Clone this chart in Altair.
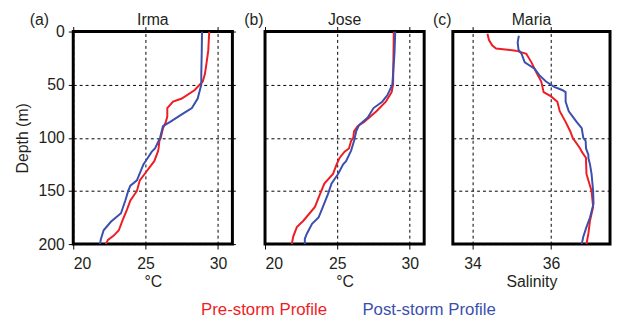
import altair as alt
import pandas as pd

RED = "#ee1d23"
BLUE = "#3a4fae"
FONT = "Liberation Sans"
TXT = "#231f20"
FS = 16

# Panel (a) Irma - temperature
irma_pre_depth = [0, 18, 31, 40, 47, 55, 63, 66, 72, 80, 85, 91, 100, 103, 110, 113, 122, 131, 140, 150, 159, 168, 178, 187, 192, 196, 200]
irma_pre_temp = [29.4, 29.33, 29.2, 29.1, 28.95, 28.4, 27.5, 26.9, 26.5, 26.5, 26.4, 26.2, 26.05, 25.95, 25.9, 25.85, 25.6, 25.1, 24.6, 24.4, 23.95, 23.7, 23.4, 23.15, 22.8, 22.4, 22.25]
irma_post_depth = [0, 20, 40, 50, 63, 72, 78, 85, 89, 100, 110, 113, 120, 125, 140, 145, 150, 159, 171, 179, 187, 196, 200]
irma_post_temp = [28.9, 28.88, 28.85, 28.85, 28.6, 28.2, 27.5, 26.7, 26.2, 26.0, 25.65, 25.43, 25.1, 24.85, 24.4, 23.95, 23.8, 23.6, 23.3, 22.6, 22.1, 21.9, 21.85]

# Panel (b) Jose - temperature
jose_pre_depth = [0, 20, 40, 50, 57, 66, 75, 85, 89, 94, 100, 103, 110, 113, 119, 125, 134, 143, 153, 165, 178, 184, 193, 200]
jose_pre_temp = [28.9, 28.88, 28.86, 28.85, 28.75, 28.35, 27.7, 26.85, 26.4, 26.15, 26.1, 25.95, 25.8, 25.5, 25.15, 24.95, 24.7, 24.1, 23.8, 23.45, 22.65, 22.2, 21.95, 21.85]
jose_post_depth = [0, 20, 40, 50, 60, 66, 72, 81, 88, 94, 103, 112, 122, 125, 134, 143, 153, 165, 175, 181, 190, 195, 200]
jose_post_temp = [29.0, 28.95, 28.85, 28.8, 28.45, 28.1, 27.5, 27.1, 26.5, 26.3, 26.15, 25.95, 25.6, 25.4, 25.05, 24.6, 24.35, 24.0, 23.7, 23.25, 22.9, 22.75, 22.75]

# Panel (c) Maria - salinity
maria_pre_depth = [2, 8, 13, 16, 18, 21, 29, 38, 47, 57, 61, 66, 75, 85, 94, 100, 110, 113, 119, 122, 134, 150, 165, 178, 190, 200]
maria_pre_sal = [34.38, 34.42, 34.5, 34.6, 35.1, 35.37, 35.5, 35.62, 35.75, 35.81, 36.0, 36.16, 36.22, 36.37, 36.49, 36.55, 36.74, 36.78, 36.89, 36.89, 36.9, 37.03, 37.07, 36.99, 36.95, 36.9]
maria_post_depth = [4, 10, 17, 21, 29, 35, 41, 47, 52, 55, 57, 66, 75, 85, 91, 100, 103, 110, 116, 119, 125, 134, 150, 162, 175, 184, 193, 200]
maria_post_sal = [35.18, 35.15, 35.17, 35.25, 35.33, 35.58, 35.7, 35.87, 36.08, 36.28, 36.37, 36.37, 36.45, 36.65, 36.78, 36.82, 36.88, 36.89, 36.95, 36.95, 36.99, 37.03, 37.07, 37.08, 36.99, 36.9, 36.82, 36.78]

series_names = ["Pre-storm Profile", "Post-storm Profile"]
series_colors = [RED, BLUE]
legend_x = [193, 360]
depth_ticks = [0, 50, 100, 150, 200]

H = 215


def frame(depths, vals, name):
    return pd.DataFrame({"depth": depths, "value": vals, "profile": name})


def label(text, x, align):
    return alt.Chart(pd.DataFrame({"t": [text]})).mark_text(
        align=align, baseline="middle", fontSize=FS, font=FONT, color=TXT
    ).encode(text="t:N", x=alt.value(x), y=alt.value(-12))


def panel(pre, post, xdom, xticks, title, tag, tag_x, xtitle, first, width):
    xs = alt.Scale(domain=xdom, nice=False, zero=False)
    ys = alt.Scale(domain=[0, 200], reverse=True, nice=False)
    col = alt.Color("profile:N", scale=alt.Scale(domain=series_names, range=series_colors), legend=None)
    bottom = alt.Axis(orient="bottom", values=xticks, title=xtitle, grid=True, domain=False,
                      tickSize=5, labelPadding=7, titlePadding=2)
    top = alt.Axis(orient="top", values=xticks, labels=False, title=None, grid=False,
                   domain=False, tickSize=5)
    if first:
        left = alt.Axis(orient="left", values=depth_ticks, title="Depth (m)", grid=True,
                        domain=False, tickSize=5, labelPadding=4, titlePadding=8)
        right = alt.Axis(orient="right", values=depth_ticks, labels=False, title=None,
                         grid=False, domain=False, tickSize=3)
    else:
        left = alt.Axis(orient="left", values=depth_ticks, labels=False, ticks=False, title=None,
                        grid=True, domain=False)
        right = None
    l1 = alt.Chart(pre).mark_line(strokeWidth=2, clip=True).encode(
        x=alt.X("value:Q", scale=xs, axis=bottom),
        y=alt.Y("depth:Q", scale=ys, axis=left),
        color=col,
        order=alt.Order("depth:Q"),
    )
    l2 = alt.Chart(post).mark_line(strokeWidth=2, clip=True).encode(
        x=alt.X("value:Q", scale=xs, axis=top),
        y=alt.Y("depth:Q", scale=ys, axis=right),
        color=col,
        order=alt.Order("depth:Q"),
    )
    return alt.layer(l1, l2, label(tag, tag_x, "left"), label(title, width / 2, "center")).resolve_axis(
        x="independent", y="independent"
    ).properties(width=width, height=H)


pa = panel(frame(irma_pre_depth, irma_pre_temp, series_names[0]),
           frame(irma_post_depth, irma_post_temp, series_names[1]),
           [20, 31], [20, 25, 30], "Irma", "(a)", -44, "°C", True, 161)
pb = panel(frame(jose_pre_depth, jose_pre_temp, series_names[0]),
           frame(jose_post_depth, jose_post_temp, series_names[1]),
           [20, 31], [20, 25, 30], "Jose", "(b)", -21, "°C", False, 161)
pc = panel(frame(maria_pre_depth, maria_pre_sal, series_names[0]),
           frame(maria_post_depth, maria_post_sal, series_names[1]),
           [33.5, 37.5], [34, 36], "Maria", "(c)", -20, "Salinity", False, 159)

leg_layers = []
for name, c, xv in zip(series_names, series_colors, legend_x):
    leg_layers.append(
        alt.Chart(pd.DataFrame({"t": [name]})).mark_text(
            align="center", baseline="middle", fontSize=17, font=FONT, color=c
        ).encode(text="t:N", x=alt.value(xv), y=alt.value(17))
    )
legend_chart = alt.layer(*leg_layers).properties(
    width=450, height=16, view=alt.ViewConfig(stroke="transparent")
)

top_row = alt.hconcat(pa, pb, pc, spacing=5)
chart = alt.vconcat(top_row, legend_chart, spacing=0).properties(
    padding={"left": 4, "top": 0, "right": 0, "bottom": 0}
).configure(
    font=FONT
).configure_view(
    stroke="black", strokeWidth=3
).configure_axis(
    labelFont=FONT, titleFont=FONT, labelFontSize=FS, titleFontSize=FS,
    labelColor=TXT, titleColor=TXT, titleFontWeight="normal",
    tickColor="black", tickWidth=1,
    gridColor="black", gridDash=[3, 3], gridOpacity=1, gridWidth=1,
)

chart.save("out.html", embed_options={"renderer": "svg", "actions": False})
